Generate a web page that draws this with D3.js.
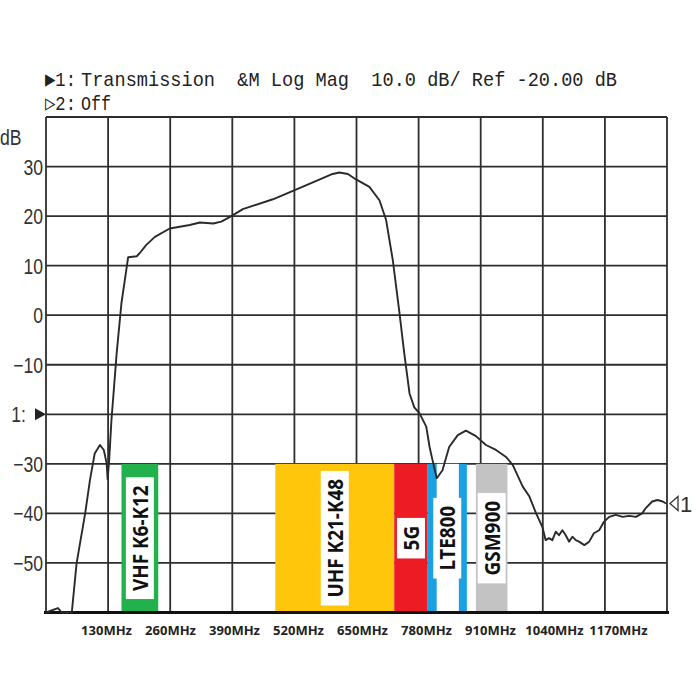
<!DOCTYPE html>
<html><head><meta charset="utf-8">
<script src="https://cdn.jsdelivr.net/npm/d3@7"></script>
<style>body{margin:0;background:#fff}svg{display:block}text.pre{white-space:pre}</style>
</head><body>
<svg id="c" width="700" height="700"></svg>
<script>
// ---- data ----
const freqMHz = [0,25,33,54,64,82,92,102,113,121,127,129,132,137,148,158,165,172,190,196,210,228,259,301,322,350,367,388,412,475,517,566,600,614,632,649,677,698,712,726,740,750,761,771,782,796,803,809,818,830,844,862,879,900,921,942,963,977,998,1012,1026,1039,1046,1053,1060,1067,1074,1081,1088,1095,1102,1109,1116,1127,1137,1147,1158,1168,1179,1193,1207,1221,1235,1248,1255,1269,1280,1291,1298];
const gainDb = [-60,-59.1,-60,-60,-50.1,-40,-33.3,-27.9,-26.2,-27.2,-29.9,-33.1,-29.6,-21.2,-7.6,2.5,7.1,11.7,11.9,12.5,14.2,15.8,17.5,18.2,18.7,18.5,18.9,20.0,21.4,23.4,25.1,27.1,28.5,28.8,28.5,27.4,25.9,23.2,19.2,11.1,0.4,-7.7,-15.8,-18.6,-19.8,-22.5,-26.6,-29.2,-32.9,-31.3,-26.6,-24.2,-23.3,-24.4,-26.2,-27.2,-28.6,-30.2,-34.6,-36.6,-40,-42.7,-45.4,-45,-45.4,-43.7,-44.4,-43.4,-44.4,-45.7,-44.7,-45.4,-45.7,-46.4,-45.7,-44,-43.4,-41.7,-40.7,-40.3,-40.7,-40.5,-40.7,-40,-39,-37.6,-37.3,-37.6,-38];

const xGrid = [0,130,260,390,520,650,780,910,1040,1170,1300];
const yGrid = [40,30,20,10,0,-10,-20,-30,-40,-50,-60];
const yTicks = [30,20,10,0,-10,-20,-30,-40,-50];
const yTickLabels = ["30","20","10","0","\u221210","1:","\u221230","\u221240","\u221250"];
const xTicks = [130,260,390,520,650,780,910,1040,1170];
const xTickLabels = ["130MHz","260MHz","390MHz","520MHz","650MHz","780MHz","910MHz","1040MHz","1170MHz"];

const bandNames = ["VHF K6-K12","UHF K21-K48","5G","LTE800","GSM900"];
const bandStart = [158,480,729,799,900];
const bandEnd   = [235,729,799,881,966];
const bandColors = ["#22b14c","#ffc60b","#ed1c24","#1ba1e2","#c3c3c3"];
const bandHollow = [false,false,false,true,false];
const bandTopDb = -30, bandBottomDb = -60;

const refLevelDb = -20;
const headerLine1Marker = "\u25B61:";
const headerLine1 = "Transmission  &M Log Mag  10.0 dB/ Ref -20.00 dB";
const headerLine2Marker = "\u25B72:";
const headerLine2 = "Off";
const yUnit = "dB";

// ---- scales ----
const svg = d3.select("#c");
const x = d3.scaleLinear().domain([0,1300]).range([46,667]);
const y = d3.scaleLinear().domain([-60,40]).range([612.5,117]);
const xLabel = d3.scaleLinear().domain([130,1170]).range([106,618]);

const ink = "#2e2e2e";

// header
const monoFont = "'Liberation Mono','DejaVu Sans Mono',monospace";
function hdr(txt, xs, xe, yb){
  const t = svg.append("text").attr("class","pre").attr("x",xs).attr("y",yb)
    .attr("font-family",monoFont).attr("font-size",21).attr("fill","#222").text(txt);
  t.attr("textLength", xe-xs).attr("lengthAdjust","spacingAndGlyphs");
}
hdr(headerLine1Marker, 45, 76, 86);
hdr(headerLine1, 81, 617, 86);
hdr(headerLine2Marker, 45, 76, 110);
hdr(headerLine2, 81, 111, 110);

// grid
const g = svg.append("g");
g.selectAll("line.v").data(xGrid).join("line")
  .attr("x1",d=>x(d)).attr("x2",d=>x(d)).attr("y1",y(40)).attr("y2",y(-60))
  .attr("stroke",ink).attr("stroke-width",1.8);
g.selectAll("line.h").data(yGrid).join("line")
  .attr("x1",x(0)).attr("x2",x(1300)).attr("y1",d=>y(d)).attr("y2",d=>y(d))
  .attr("stroke",ink).attr("stroke-width",1.8);

// y tick labels
const labFont = "'Liberation Sans',Arial,sans-serif";
const yl = svg.append("g");
yTicks.forEach((v,i)=>{
  const isRef = v===refLevelDb;
  const t = yl.append("text").attr("x", isRef?26:43).attr("y", y(v)+8)
    .attr("text-anchor","end").attr("font-family",labFont).attr("font-size",22)
    .attr("fill","#333").text(yTickLabels[i]);
  const L = t.node().getComputedTextLength();
  t.attr("textLength", L*0.8).attr("lengthAdjust","spacingAndGlyphs");
});
// ref marker
svg.append("path")
  .attr("d", d3.line()([[35,y(refLevelDb)-6],[46,y(refLevelDb)],[35,y(refLevelDb)+6]])+"Z")
  .attr("fill","#222");
// unit
{
  const t = svg.append("text").attr("x",0).attr("y",145).attr("font-family",labFont)
    .attr("font-size",22).attr("fill","#333").text(yUnit);
  t.attr("textLength", t.node().getComputedTextLength()*0.8).attr("lengthAdjust","spacingAndGlyphs");
}

// bands
const bandFont = "'Open Sans',sans-serif";
bandNames.forEach((name,i)=>{
  const x0 = x(bandStart[i]), x1 = x(bandEnd[i]);
  const yt = y(bandTopDb), yb = y(bandBottomDb);
  svg.append("rect").attr("x",x0).attr("y",yt).attr("width",x1-x0).attr("height",yb-yt)
    .attr("fill",bandColors[i]);
  if(bandHollow[i]){
    svg.append("rect").attr("x",x0+9).attr("y",yt).attr("width",x1-x0-17).attr("height",yb-yt)
      .attr("fill","#fff");
  }
  const cx = (x0+x1)/2, cy = y((bandTopDb+bandBottomDb)/2);
  const lg = svg.append("g").attr("transform",`translate(${cx},${cy}) rotate(-90)`);
  const bg = lg.append("rect").attr("fill","#fff");
  const t = lg.append("text").attr("x",0).attr("y",0).attr("dy","0.36em")
    .attr("text-anchor","middle").attr("font-family",bandFont).attr("font-weight",700)
    .attr("font-size",22).attr("fill","#111").text(name);
  const L = t.node().getComputedTextLength()*0.86;
  t.attr("textLength",L).attr("lengthAdjust","spacingAndGlyphs");
  bg.attr("x",-L/2-8).attr("y",-14).attr("width",L+16).attr("height",28);
});

// bottom axis line
svg.append("line").attr("x1",44).attr("x2",669).attr("y1",y(-60)).attr("y2",y(-60))
  .attr("stroke","#111").attr("stroke-width",3.2);

// x tick labels
const xa = svg.append("g").attr("transform",`translate(0,${y(-60)})`)
  .call(d3.axisBottom(xLabel).tickValues(xTicks).tickSize(0).tickPadding(13)
        .tickFormat((d,i)=>xTickLabels[i]));
xa.select(".domain").remove();
xa.selectAll("text").attr("font-family",bandFont).attr("font-weight",700)
  .attr("font-size",13).attr("fill","#222");

// curve
const pts = freqMHz.map((f,i)=>[f,gainDb[i]]);
svg.append("path").datum(pts)
  .attr("d", d3.line().x(d=>x(d[0])).y(d=>y(d[1])))
  .attr("fill","none").attr("stroke","#2a2a2a").attr("stroke-width",1.9)
  .attr("stroke-linejoin","round");

// right end marker
{
  const last = pts[pts.length-1];
  const ym = y(last[1]);
  const xm = x(1300)+3;
  svg.append("path").attr("d", d3.line()([[xm+8,ym-7],[xm,ym],[xm+8,ym+7]])+"Z")
    .attr("fill","none").attr("stroke","#333").attr("stroke-width",1.3);
  svg.append("text").attr("x",xm+10).attr("y",ym+9).attr("font-family",labFont)
    .attr("font-size",22).attr("fill","#333").text("1");
}
</script>
</body></html>
